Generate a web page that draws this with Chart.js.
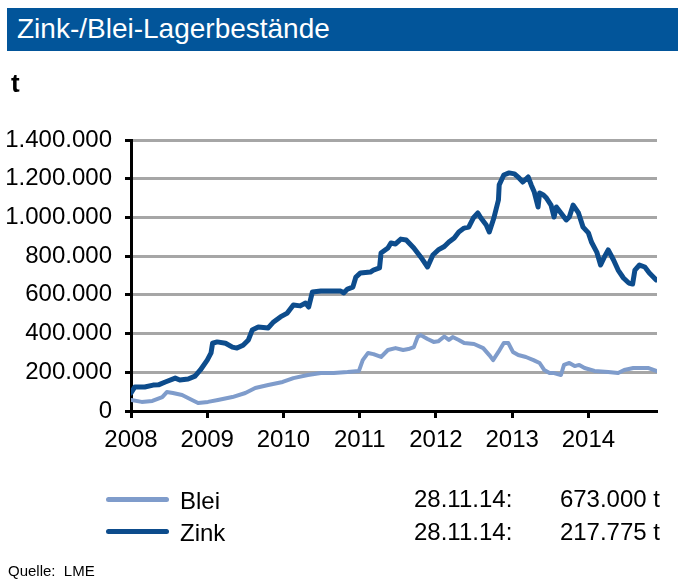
<!DOCTYPE html>
<html>
<head>
<meta charset="utf-8">
<script src="https://cdn.jsdelivr.net/npm/chart.js@4"></script>
<style>
  body { margin: 0; width: 687px; height: 584px; background: #fff; font-family: "Liberation Sans", Arial, sans-serif; overflow: hidden; }
  #wrap { position: relative; width: 687px; height: 584px; }
  #chart { position: absolute; left: 0; top: 0; }
  .abs { position: absolute; white-space: pre; color: #000; }
  #titlebar { position: absolute; left: 7px; top: 8px; width: 671px; height: 43px; background: #02559a; }
  #title { position: absolute; left: 10px; top: 5px; color: #fff; font-size: 28px; }
  .swatch { position: absolute; left: 106px; width: 63px; height: 5px; border-radius: 3px; }
</style>
</head>
<body>
<div id="wrap">
  <canvas id="chart" width="687" height="584"></canvas>
  <div id="titlebar"><div id="title">Zink-/Blei-Lagerbestände</div></div>
  <div class="abs" style="left:11px; top:68px; font-size:26px; font-weight:bold;">t</div>

  <div class="swatch" style="top:497px; background:#7f9ccb;"></div>
  <div class="abs" style="left:180px; top:487px; font-size:24px;">Blei</div>
  <div class="abs" style="left:414px; top:485px; font-size:24px;">28.11.14:</div>
  <div class="abs" style="right:27px; top:485px; font-size:24px;">673.000 t</div>

  <div class="swatch" style="top:529px; background:#0d4c8c;"></div>
  <div class="abs" style="left:180px; top:519px; font-size:24px;">Zink</div>
  <div class="abs" style="left:414px; top:518px; font-size:24px;">28.11.14:</div>
  <div class="abs" style="right:27px; top:518px; font-size:24px;">217.775 t</div>

  <div class="abs" style="left:8px; top:562px; font-size:15px;">Quelle:  LME</div>
</div>
<script>
// x ticks (years) and their labels
const YEAR_TICKS = [2008, 2009, 2010, 2011, 2012, 2013, 2014];
const YEAR_LABELS = ['2008', '2009', '2010', '2011', '2012', '2013', '2014'];
const Y_MAX = 1400000;
const Y_STEP = 200000;

// Zink stocks (t), x as decimal year
const ZINK_X = [2008.00, 2008.05, 2008.18, 2008.29, 2008.36, 2008.45, 2008.58, 2008.64, 2008.75, 2008.84,
  2008.91, 2009.00, 2009.05, 2009.07, 2009.13, 2009.24, 2009.33, 2009.39, 2009.47, 2009.54,
  2009.59, 2009.67, 2009.80, 2009.87, 2009.96, 2010.05, 2010.13, 2010.22, 2010.29, 2010.33,
  2010.38, 2010.49, 2010.75, 2010.79, 2010.84, 2010.91, 2010.95, 2011.01, 2011.14, 2011.18,
  2011.26, 2011.28, 2011.37, 2011.41, 2011.47, 2011.54, 2011.61, 2011.71, 2011.80, 2011.89,
  2011.96, 2012.03, 2012.11, 2012.17, 2012.24, 2012.30, 2012.37, 2012.43, 2012.49, 2012.55,
  2012.59, 2012.66, 2012.70, 2012.76, 2012.82, 2012.83, 2012.89, 2012.96, 2013.03, 2013.09,
  2013.14, 2013.21, 2013.25, 2013.29, 2013.34, 2013.36, 2013.41, 2013.45, 2013.51, 2013.55,
  2013.58, 2013.64, 2013.71, 2013.75, 2013.80, 2013.87, 2013.93, 2014.00, 2014.04, 2014.11,
  2014.16, 2014.21, 2014.26, 2014.33, 2014.39, 2014.46, 2014.53, 2014.58, 2014.61, 2014.67,
  2014.74, 2014.80, 2014.89];
const ZINK_Y = [93000, 124000, 124000, 134000, 135000, 150000, 170000, 160000, 165000, 180000,
  212000, 263000, 300000, 350000, 357000, 350000, 330000, 325000, 340000, 367000,
  418000, 434000, 429000, 460000, 486000, 506000, 548000, 543000, 558000, 537000,
  615000, 620000, 620000, 610000, 630000, 640000, 692000, 713000, 718000, 728000,
  739000, 816000, 842000, 868000, 863000, 888000, 883000, 842000, 796000, 744000,
  806000, 832000, 850000, 873000, 894000, 925000, 945000, 950000, 997000, 1023000,
  997000, 961000, 925000, 997000, 1090000, 1168000, 1219000, 1230000, 1225000, 1204000,
  1183000, 1209000, 1168000, 1131000, 1054000, 1126000, 1116000, 1100000, 1064000, 1002000,
  1054000, 1023000, 987000, 1002000, 1064000, 1023000, 950000, 920000, 873000, 821000,
  754000, 796000, 832000, 780000, 728000, 687000, 661000, 656000, 728000, 754000,
  744000, 713000, 677000];

// Blei stocks (t)
const BLEI_X = [2008.00, 2008.14, 2008.28, 2008.41, 2008.47, 2008.55, 2008.67, 2008.80, 2008.88, 2009.01,
  2009.14, 2009.33, 2009.50, 2009.63, 2009.80, 2009.99, 2010.13, 2010.32, 2010.49, 2010.66,
  2010.84, 2010.99, 2011.04, 2011.11, 2011.18, 2011.28, 2011.37, 2011.47, 2011.57, 2011.64,
  2011.71, 2011.76, 2011.80, 2011.89, 2011.97, 2012.03, 2012.11, 2012.17, 2012.22, 2012.30,
  2012.37, 2012.50, 2012.62, 2012.70, 2012.75, 2012.82, 2012.89, 2012.95, 2013.01, 2013.08,
  2013.18, 2013.28, 2013.36, 2013.42, 2013.49, 2013.55, 2013.64, 2013.68, 2013.75, 2013.82,
  2013.88, 2013.95, 2014.08, 2014.26, 2014.39, 2014.47, 2014.59, 2014.70, 2014.79, 2014.89];
const BLEI_Y = [57000, 47000, 52000, 72000, 98000, 93000, 83000, 57000, 41000, 47000,
  57000, 72000, 93000, 119000, 134000, 150000, 170000, 186000, 196000, 196000,
  201000, 207000, 263000, 300000, 294000, 279000, 315000, 325000, 315000, 320000,
  330000, 382000, 392000, 372000, 357000, 360000, 385000, 367000, 382000, 367000,
  351000, 346000, 325000, 289000, 263000, 305000, 351000, 351000, 305000, 289000,
  279000, 263000, 248000, 212000, 196000, 196000, 186000, 238000, 248000, 232000,
  238000, 222000, 207000, 201000, 196000, 212000, 222000, 222000, 222000, 207000];

function toPoints(xs, ys) {
    return xs.map((x, i) => ({ x: x, y: ys[i] }));
}

function formatThousands(value) {
    return String(value).replace(/\B(?=(\d{3})+(?!\d))/g, '.');
}

const ctx = document.getElementById('chart').getContext('2d');
new Chart(ctx, {
    type: 'line',
    data: {
        datasets: [{
            label: 'Blei',
            data: toPoints(BLEI_X, BLEI_Y),
            borderColor: '#7f9ccb',
            borderWidth: 4
        }, {
            label: 'Zink',
            data: toPoints(ZINK_X, ZINK_Y),
            borderColor: '#0d4c8c',
            borderWidth: 5
        }]
    },
    options: {
        responsive: false,
        animation: false,
        devicePixelRatio: 1,
        layout: { padding: { top: 140, right: 30, bottom: 123, left: 0 } },
        elements: {
            point: { radius: 0 },
            line: { tension: 0, borderJoinStyle: 'round', borderCapStyle: 'round' }
        },
        plugins: { legend: { display: false }, tooltip: { enabled: false } },
        scales: {
            x: {
                type: 'linear',
                min: 2008,
                max: 2014.9,
                afterBuildTicks: scale => {
                    scale.ticks = YEAR_TICKS.map(v => ({ value: v }));
                },
                afterFit: scale => { scale.height = 50; },
                grid: { drawOnChartArea: false, tickLength: 7, tickColor: '#000', tickWidth: 3 },
                border: { color: '#000', width: 3 },
                ticks: {
                    autoSkip: false,
                    maxRotation: 0,
                    padding: 8,
                    color: '#000',
                    font: { family: 'Liberation Sans', size: 24 },
                    callback: value => YEAR_LABELS[YEAR_TICKS.indexOf(value)]
                }
            },
            y: {
                min: 0,
                max: Y_MAX,
                afterFit: scale => { scale.width = 131; },
                grid: { color: '#a6a6a6', lineWidth: 3, tickLength: 6, tickColor: '#000', tickWidth: 3 },
                border: { color: '#000', width: 3 },
                ticks: {
                    stepSize: Y_STEP,
                    padding: 13,
                    color: '#000',
                    font: { family: 'Liberation Sans', size: 24 },
                    callback: value => formatThousands(value)
                }
            }
        }
    }
});
</script>
</body>
</html>
